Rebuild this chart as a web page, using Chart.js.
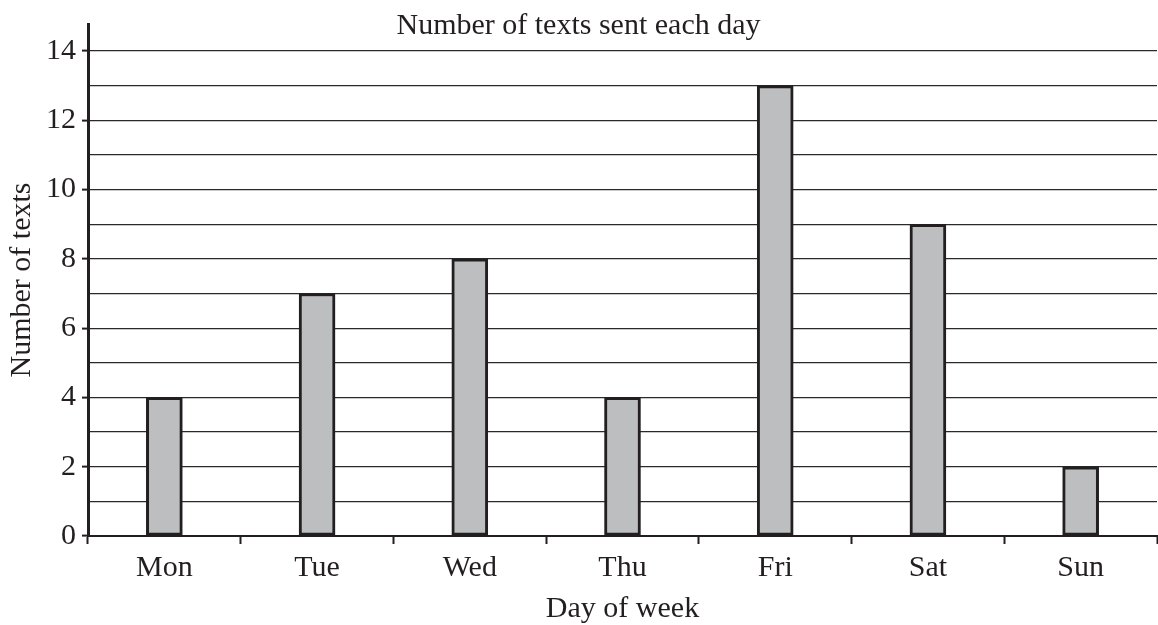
<!DOCTYPE html>
<html>
<head>
<meta charset="utf-8">
<script src="https://cdn.jsdelivr.net/npm/chart.js@4/dist/chart.umd.min.js"></script>
<style>
html,body{margin:0;padding:0;background:#fff;}
#wrap{width:1158px;height:625px;}
</style>
</head>
<body>
<div id="wrap"><canvas id="c" width="1158" height="625"></canvas></div>
<script>
const days = ['Mon','Tue','Wed','Thu','Fri','Sat','Sun'];
const texts = [4, 7, 8, 4, 13, 9, 2];
const yMin = 0, yTop = 14, yAxisEnd = 14.78, yStep = 1;
const chartTitle = 'Number of texts sent each day';
const xTitle = 'Day of week';
const yTitle = 'Number of texts';

const ink = '#231f20';
const FONT = 'Liberation Serif';
const FS = 30;

new Chart(document.getElementById('c'), {
  type: 'bar',
  data: {
    labels: days,
    datasets: [{
      data: texts,
      backgroundColor: '#bcbec0',
      borderColor: ink,
      borderWidth: 3,
      barThickness: 36,
      borderSkipped: false
    }]
  },
  options: {
    responsive: false,
    animation: false,
    devicePixelRatio: 1,
    layout: { padding: { left: 0, right: 1, top: 0, bottom: 0 } },
    plugins: {
      legend: { display: false },
      tooltip: { enabled: false },
      title: {
        display: true,
        text: chartTitle,
        color: ink,
        font: { family: FONT, size: FS, weight: 'normal', lineHeight: 1.2 },
        padding: { top: 6, bottom: -20 }
      }
    },
    scales: {
      x: {
        offset: true,
        afterFit: s => { s.height = 89; },
        grid: {
          offset: true,
          drawOnChartArea: false,
          drawTicks: true,
          tickLength: 8,
          tickWidth: 2,
          tickColor: ink
        },
        border: { display: true, color: ink, width: 2 },
        ticks: {
          color: ink,
          padding: 6,
          font: { family: FONT, size: FS, lineHeight: 1.2 }
        },
        title: {
          display: true,
          text: xTitle,
          color: ink,
          font: { family: FONT, size: FS, lineHeight: 1.2 },
          padding: { top: 0, bottom: -2 }
        }
      },
      y: {
        min: yMin,
        max: yAxisEnd,
        afterBuildTicks: s => {
          const t = [];
          for (let v = yMin; v <= yTop; v += yStep) t.push({ value: v });
          s.ticks = t;
        },
        afterFit: s => { s.width = 88; },
        grid: {
          color: '#2a2a2a',
          lineWidth: 1.2,
          drawTicks: true,
          tickLength: 6,
          tickWidth: 2,
          tickColor: ctx => (ctx.tick && ctx.tick.value % 2 === 0) ? ink : 'rgba(0,0,0,0)'
        },
        border: { display: true, color: ink, width: 3 },
        ticks: {
          color: ink,
          padding: 6,
          autoSkip: false,
          font: { family: FONT, size: FS, lineHeight: 1.2 },
          callback: v => (v % 2 === 0 ? String(v) : '')
        },
        title: {
          display: true,
          text: yTitle,
          color: ink,
          font: { family: FONT, size: FS, lineHeight: 1.2 },
          padding: { top: 4, bottom: 0 }
        }
      }
    }
  }
});
</script>
</body>
</html>
